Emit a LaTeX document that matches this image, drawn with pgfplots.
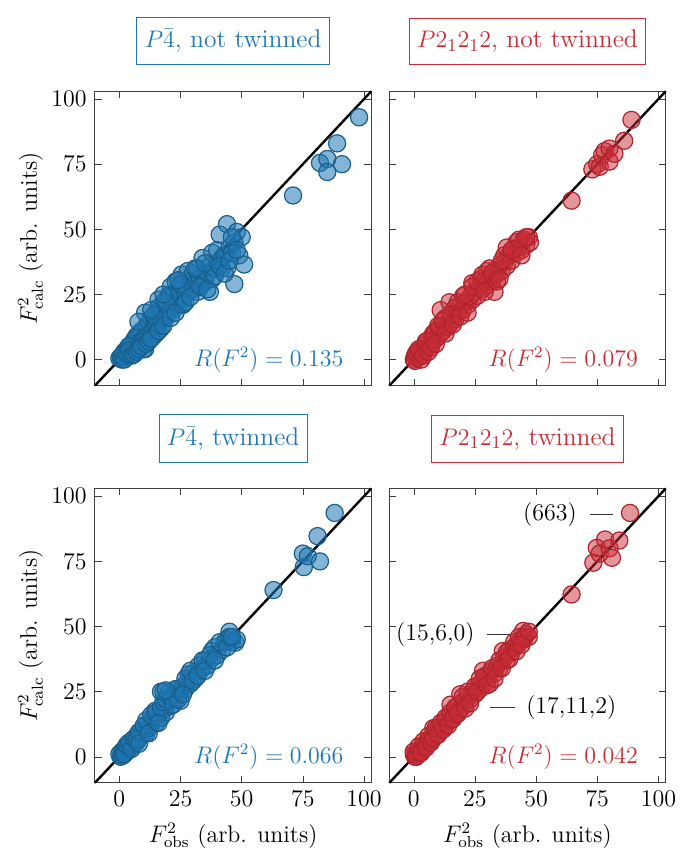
\documentclass[12pt,border={5pt 0pt 0pt 8.5pt}]{standalone}
\usepackage{pgfplots}
\pgfplotsset{compat=1.18}
\usepgfplotslibrary{groupplots}
\definecolor{cblue}{RGB}{31,119,180}
\definecolor{cbluedk}{RGB}{25,95,140}
\definecolor{cred}{RGB}{200,45,55}
\definecolor{creddk}{RGB}{175,35,45}
\pgfplotsset{
  bluepts/.style={only marks, mark=*, mark size=4.3pt, mark options={draw=cbluedk, fill=cblue, fill opacity=0.55, line width=0.6pt}},
  redpts/.style={only marks, mark=*, mark size=4.3pt, mark options={draw=creddk, fill=cred, fill opacity=0.5, line width=0.6pt}},
  diag/.style={black, line width=1.2pt},
}
\begin{document}
\begin{tikzpicture}
\begin{groupplot}[
  group style={group size=2 by 2, horizontal sep=9pt, vertical sep=51.5pt,
    xticklabels at=edge bottom, yticklabels at=edge left},
  scale only axis, width=138.5pt, height=147.5pt,
  xmin=-10, xmax=103, ymin=-10, ymax=103,
  xtick={0,25,50,75,100}, ytick={0,25,50,75,100},
  major tick length=3.5pt,
  ylabel shift=-4pt,
  axis line style={black!75}, tick style={black!75},
  clip=false,
  title style={draw, font=\fontsize{12.8}{15}\selectfont, inner xsep=4pt, inner ysep=6pt, anchor=south, at={(0.5,1)}, yshift=7pt},
]
% ---------- P-4 not twinned ----------
\nextgroupplot[title={$P\bar{4}$, not twinned}, title style={draw=cblue, text=cblue},
  ylabel={$F^2_{\mathrm{calc}}$ (arb. units)}]
\addplot[bluepts] coordinates {
(0,0.5) (0.5,1) (1,0) (1.5,2) (2,1) (2,3) (3,1.5) (3,4) (4,2) (4,5) (5,3) (5,6) (6,4) (6,7.5)
(7,5) (7,9) (8,6) (8,10) (9,7) (9,11) (10,8) (10,4) (11,9) (11,13) (12,10) (12,14) (13,11)
(13,16) (14,12) (14,9) (15,13) (15,18) (16,14) (16,20) (17,15) (17,12) (18,17) (18,22) (19,16)
(20,18) (20,24.5) (21,20) (21,28) (22,19) (22,25) (23,22) (24,21) (24,27) (25,23) (25.5,32.7)
(26,21) (26,29) (27,25) (28,34) (28,26) (29,30) (30,27) (30,33) (31,29) (32,26) (32,35) (33,31)
(34,39) (34,29) (35,30) (36,33) (37,26) (37,36) (38,31) (38,41) (39,35) (40,37) (40,42) (41,48)
(42,39) (42,35) (43,40) (44,52) (44,35) (45,43) (46,41) (47,29) (47,45) (48,49) (49,40) (50,47)
(51,36.5) (10.5,18) (7.8,14.5) (15,10) (10.5,4) (3.9,5.2) (16,23) (19,17) (26,21.2) (20.2,24.4)
(1,1.5) (2,0) (3,2.5) (4,3.5) (5,1.5) (6,2) (7,3) (8,4) (9,5) (11,6) (12,7) (13,8) (14,17) (16,11)
(18,13) (19,22) (21,16) (23,18) (23,30) (25,29) (27,22) (29,24) (31,35) (33,28) (35,37) (36,27)
(39,32) (41,36) (43,33) (45,38) (46,47) (48,42) (24,30.5) (18,25) (13,19)
(71,63) (82,75.5) (85,77) (85,72) (89,83) (91,75) (98,93)
};
\addplot[diag] coordinates {(-10,-10) (103,103)};
\node[anchor=east, text=cblue] at (axis cs:95,0) {$R(F^2) = 0.135$};
% ---------- P21212 not twinned ----------
\nextgroupplot[title={$P2_12_12$, not twinned}, title style={draw=cred, text=cred}]
\addplot[redpts] coordinates {
(0,0) (0.5,1.5) (1,0.5) (1.5,3) (2,1) (2.5,2.5) (3,4) (3,1.5) (4,3) (4.5,5.5) (5,4) (6,5) (6,7.5)
(7,6) (7.5,9) (8,7) (9,8) (9,11) (10,9) (10.5,12.5) (11,10) (11,19) (12,11) (13,13) (13,16)
(14,12.5) (14.6,22) (15,14) (16,17) (17,15.5) (17,20) (18,18) (19,21) (20,19) (20.2,24.4) (21,22)
(22,21) (23,24) (23.9,29.3) (24,23) (25,26) (26,24.5) (27,28) (27.4,31) (28,27) (29,30) (30,34)
(30,28.5) (31,31) (32,30) (33,26) (33,34) (34,33) (35,36) (36,34) (37,40) (37,37.5) (38,36)
(39,40) (40,38) (41,42.6) (42,45) (42,41) (43,43) (44,42) (45,46) (46,44) (47,47) (47.5,45)
(0.5,-0.5) (1,2.5) (2,4) (3,0) (4,1.5) (5,7) (6,3) (7,4.5) (8,10) (9,6) (10,13) (12,15) (13,10)
(15,17.5) (16,13.5) (18,22) (19,16.5) (21,25) (22,18) (24,28) (26,30) (28,32.5) (29,26) (31,35)
(32,33) (34,30) (35,31) (36,38) (38,43) (40,42) (43,46) (44,40) (46,47)
(64.5,61) (73,73) (75,75) (76,74) (77,78.5) (78,80) (80,81) (80,76) (82,79) (86,84) (89,92)
};
\addplot[diag] coordinates {(-10,-10) (103,103)};
\node[anchor=east, text=cred] at (axis cs:95,0) {$R(F^2) = 0.079$};
% ---------- P-4 twinned ----------
\nextgroupplot[title={$P\bar{4}$, twinned}, title style={draw=cblue, text=cblue},
  ylabel={$F^2_{\mathrm{calc}}$ (arb. units)}, xlabel={$F^2_{\mathrm{obs}}$ (arb. units)}]
\addplot[bluepts] coordinates {
(0,1) (0.5,0) (1,2) (1.5,0.5) (2,3) (2.5,1.5) (3,2) (3.5,4) (4,3) (5,4) (5,6) (6,5) (7,8) (7,5.5)
(8,7) (9,8.7) (9,10) (10,9) (11,12) (11,9) (12,11) (13,14) (13,12) (14,15) (14.6,17.6) (15,13)
(16,16) (17,25) (17,15) (18,18) (19,17) (20,24.6) (20,21) (21,19.5) (22,23) (23,22) (24,26)
(25,21.5) (25,25) (26,27) (27,26) (28.3,31.7) (28,29) (29,28) (30,32) (31,30) (32.4,35) (33,33)
(34,34) (35,37) (36,35) (37.8,40.6) (38,38) (39,42) (40,39) (42,41) (43,44) (44,45) (45,48)
(46,44) (47.4,43.8) (48,45)
(1,0.5) (2,1) (3,4.5) (4,5.5) (5,3) (6,7) (7,6.5) (8,9.5) (8,5) (10,12) (11,14) (12,9) (13,16)
(15,17) (16,13) (17,19) (18,21) (19,22) (21,23) (22,20) (23,26) (24,22) (26,24) (27,30) (29,33)
(30,29) (32,31) (34,37) (35,33) (37,39) (39,37) (41,44) (44,42) (45,46) (46,46) (18,25) (19,25.5)
(63,64) (75,78) (75.4,72.8) (77,77) (81,84.7) (82,75) (88,93.6)
};
\addplot[diag] coordinates {(-10,-10) (103,103)};
\node[anchor=east, text=cblue] at (axis cs:95,0) {$R(F^2) = 0.066$};
% ---------- P21212 twinned ----------
\nextgroupplot[title={$P2_12_12$, twinned}, title style={draw=cred, text=cred},
  xlabel={$F^2_{\mathrm{obs}}$ (arb. units)}]
\addplot[redpts] coordinates {
(0,1) (0.5,0) (1,1.5) (1.5,0.5) (2,2.5) (2.5,1.5) (3,3) (4,4.5) (4,3) (5,5) (6,6.5) (6,5) (7,7)
(8,9) (8,11) (9,8) (10,11) (11,10) (12,13) (13,12) (14,15) (15,14) (15,20) (16,17) (17,16)
(18,19.5) (19,24) (19,18) (20,21) (21,20) (22,23) (23,22) (24,25) (25,24) (26,27) (27,26)
(28.3,33) (28,29) (29,28) (30,31) (31,28) (32,33) (33,32) (34,35) (35,34) (36.4,40.6) (37,38)
(38,37) (39,41) (40,40) (41,42) (42,43) (43,44) (44.7,48.3) (45,45) (46,47) (47,46)
(0,2) (1,0) (2,4) (3,1.5) (4,6) (5,3.5) (6,8) (7,5.5) (8,7) (9,11) (10,8.5) (11,13) (12,10.5)
(13,15) (14,12) (15,17) (16,14.5) (17,19) (18,16.5) (20,23) (21,18.5) (22,25) (23,20.5) (25,27)
(26,25) (27,30) (29,31) (30,27.5) (32,34) (33,30) (35,37) (36,34) (38,40) (39,37.5) (41,44)
(42,40.5) (43,46) (45,46) (47,48) (44,43)
(64.5,62.3) (73.4,74.5) (74.8,80.2) (76,78) (78.2,83.4) (80,80) (81,76.4) (84,83) (88.4,93.6)
};
\addplot[diag] coordinates {(-10,-10) (103,103)};
\node[anchor=east, text=cred] at (axis cs:95,0) {$R(F^2) = 0.042$};
\draw[black!80] (axis cs:72,93) -- (axis cs:81.6,93);
\node[anchor=east] at (axis cs:70,93) {(663)};
\draw[black!80] (axis cs:29.9,47) -- (axis cs:39.9,47);
\node[anchor=east] at (axis cs:28.2,47) {(15,6,0)};
\draw[black!80] (axis cs:31.3,18.9) -- (axis cs:41.2,18.9);
\node[anchor=west] at (axis cs:42.6,18.9) {(17,11,2)};
\end{groupplot}
\end{tikzpicture}
\end{document}
